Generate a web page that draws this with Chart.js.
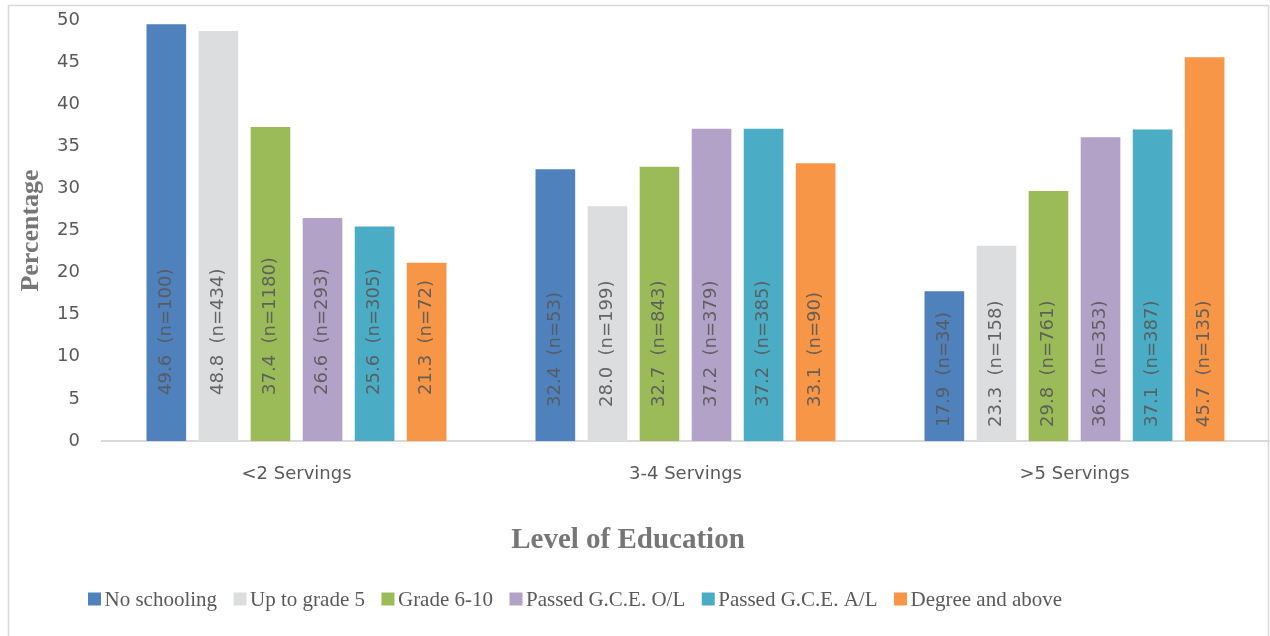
<!DOCTYPE html>
<html>
<head>
<meta charset="utf-8">
<script src="https://cdn.jsdelivr.net/npm/chart.js@4/dist/chart.umd.min.js"></script>
<style>
  html, body { margin: 0; padding: 0; background: #ffffff; }
  #wrap { position: relative; width: 1270px; height: 636px; }
</style>
</head>
<body>
<div id="wrap"><canvas id="chart" width="1270" height="636"></canvas></div>
<script>
// Share of respondents by fruit & vegetable servings, split by level of education
const servings = ['<2 Servings', '3-4 Servings', '>5 Servings'];
const education = ['No schooling', 'Up to grade 5', 'Grade 6-10', 'Passed G.C.E. O/L', 'Passed G.C.E. A/L', 'Degree and above'];

const noSchooling   = [49.6, 32.4, 17.9];
const upToGrade5    = [48.8, 28.0, 23.3];
const grade6to10    = [37.4, 32.7, 29.8];
const passedOL      = [26.6, 37.2, 36.2];
const passedAL      = [25.6, 37.2, 37.1];
const degreeAbove   = [21.3, 33.1, 45.7];

const nNoSchooling  = [100, 53, 34];
const nUpToGrade5   = [434, 199, 158];
const nGrade6to10   = [1180, 843, 761];
const nPassedOL     = [293, 379, 353];
const nPassedAL     = [305, 385, 387];
const nDegreeAbove  = [72, 90, 135];

const yTicks = [0, 5, 10, 15, 20, 25, 30, 35, 40, 45, 50];

const colors = ['#4f81bd', '#dcdddf', '#9bbb59', '#b3a2c7', '#4bacc6', '#f79646'];
const values = [noSchooling, upToGrade5, grade6to10, passedOL, passedAL, degreeAbove];
const counts = [nNoSchooling, nUpToGrade5, nGrade6to10, nPassedOL, nPassedAL, nDegreeAbove];

const datasets = education.map((name, i) => ({
  label: name,
  data: values[i],
  counts: counts[i],
  backgroundColor: colors[i],
  borderColor: 'rgba(255,255,255,0.45)',
  borderWidth: 1,
  categoryPercentage: 0.803,
  barPercentage: 0.8
}));

// distance (px) from the bar base to the start of each rotated value label, per group
const labelLift = [46, 34, 14];

const barLabels = {
  id: 'barLabels',
  afterDatasetsDraw(chart) {
    const ctx = chart.ctx;
    ctx.save();
    ctx.font = '18px "DejaVu Sans"';
    ctx.fillStyle = 'rgba(89,89,89,0.92)';
    ctx.textAlign = 'left';
    ctx.textBaseline = 'middle';
    chart.data.datasets.forEach((ds, di) => {
      const meta = chart.getDatasetMeta(di);
      meta.data.forEach((bar, j) => {
        const text = ds.data[j].toFixed(1) + '  (n=' + ds.counts[j] + ')';
        ctx.save();
        ctx.translate(bar.x, bar.base - labelLift[j]);
        ctx.rotate(-Math.PI / 2);
        ctx.fillText(text, 0, 0);
        ctx.restore();
      });
    });
    ctx.restore();
  }
};

// frame, x-axis title and a compact legend row under the plot
const frameTitleLegend = {
  id: 'frameTitleLegend',
  afterDraw(chart) {
    const ctx = chart.ctx;
    ctx.save();
    ctx.strokeStyle = '#d9d9d9';
    ctx.lineWidth = 1.5;
    ctx.beginPath();
    ctx.moveTo(8.5, 636);
    ctx.lineTo(8.5, 5.5);
    ctx.lineTo(1268.5, 5.5);
    ctx.lineTo(1268.5, 636);
    ctx.stroke();

    ctx.font = 'bold 29px "Liberation Serif"';
    ctx.fillStyle = '#767676';
    ctx.textAlign = 'center';
    ctx.textBaseline = 'middle';
    ctx.fillText('Level of Education', 628, 541);

    const box = 13, boxGap = 3.5, itemGap = 16.5, legendY = 600;
    ctx.font = '21px "Liberation Serif"';
    ctx.textAlign = 'left';
    let x = 88;
    chart.data.datasets.forEach((ds) => {
      ctx.fillStyle = ds.backgroundColor;
      ctx.fillRect(x, legendY - box / 2 - 1, box, box);
      ctx.fillStyle = '#595959';
      ctx.fillText(ds.label, x + box + boxGap, legendY);
      x += box + boxGap + ctx.measureText(ds.label).width + itemGap;
    });
    ctx.restore();
  }
};

new Chart(document.getElementById('chart'), {
  type: 'bar',
  data: { labels: servings, datasets },
  plugins: [barLabels, frameTitleLegend],
  options: {
    responsive: false,
    animation: false,
    layout: { padding: { left: 8, right: 1, top: 20, bottom: 0 } },
    plugins: {
      tooltip: { enabled: false },
      legend: { display: false }
    },
    scales: {
      x: {
        grid: { display: false, drawTicks: false },
        border: { display: true, color: '#d9d9d9', width: 2 },
        ticks: {
          color: '#595959',
          padding: 23,
          font: { family: '"DejaVu Sans"', size: 18 }
        },
        afterFit(scale) {
          scale.height = scale.chart.height - 441;
          scale.paddingLeft = 0;
          scale.paddingRight = 0;
        }
      },
      y: {
        min: 0,
        max: 50,
        afterBuildTicks(scale) { scale.ticks = yTicks.map(v => ({ value: v })); },
        grid: { display: false, drawTicks: false },
        border: { display: false },
        ticks: {
          color: '#595959',
          padding: 22,
          font: { family: '"DejaVu Sans"', size: 18 }
        },
        title: {
          display: true,
          text: 'Percentage',
          color: '#767676',
          padding: { top: 8, bottom: 0 },
          font: { family: '"Liberation Serif"', size: 26, weight: 'bold' }
        },
        afterFit(scale) {
          scale.width = 94;
          scale.paddingTop = 0;
          scale.paddingBottom = 0;
        }
      }
    }
  }
});
</script>
</body>
</html>
